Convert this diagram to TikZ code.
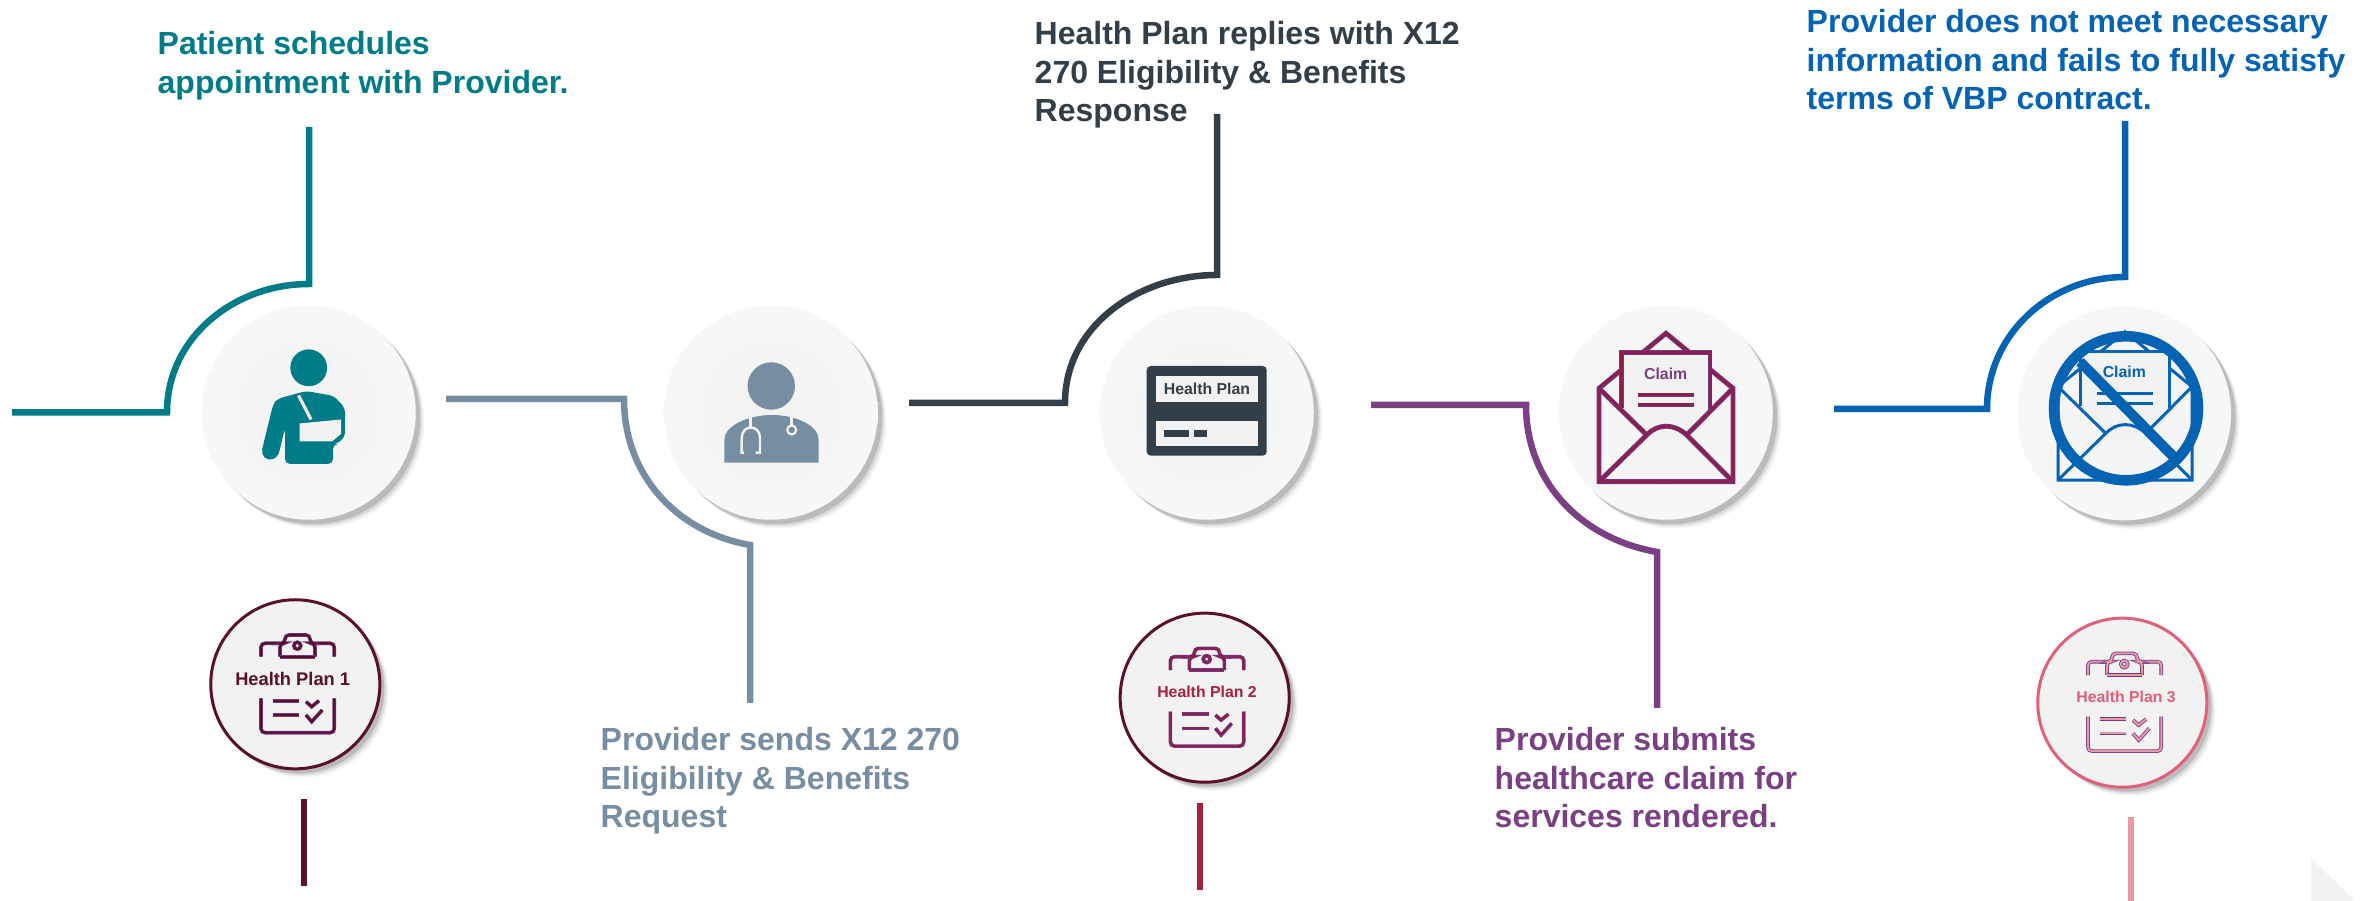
\documentclass[tikz,border=0pt]{standalone}
\usepackage{fontspec}
\setmainfont{Liberation Sans}
\usetikzlibrary{shadows}
\definecolor{tealline}{HTML}{007C89}
\definecolor{slateline}{HTML}{778DA1}
\definecolor{darkline}{HTML}{323E48}
\definecolor{plumline}{HTML}{7B3F84}
\definecolor{blueline}{HTML}{0563B4}
\definecolor{wineline}{HTML}{5A1027}
\definecolor{redline}{HTML}{A6213C}
\definecolor{pinkline}{HTML}{E998A6}
\definecolor{pinkrim}{HTML}{E0607A}
\definecolor{iconplum}{HTML}{6C3A8A}
\definecolor{iconred}{HTML}{8E1E4B}
\definecolor{disccolor}{HTML}{F2F2F2}
\begin{document}
\begin{tikzpicture}
    [
        x=0.01cm, y=-0.01cm,
        round shadow/.style = {
            drop shadow={shadow xshift=.085cm, shadow yshift=-.085cm, shadow scale=1.0, opacity=.1},
            drop shadow={shadow xshift=.065cm, shadow yshift=-.065cm, shadow scale=1.0, opacity=.2},
            drop shadow={shadow xshift=.045cm, shadow yshift=-.045cm, shadow scale=1.0, opacity=.35},
        },
        icon disc/.style = {
            circle, inner sep=0pt, minimum size=2.14cm,
            shade, inner color=disccolor, outer color=disccolor!60!white, round shadow
        },
        plan disc/.style = {
            circle, inner sep=0pt, minimum size=1.69cm, line width=.85pt,
            fill=disccolor, round shadow
        },
        route/.style = {
            line width=1.85pt, miter limit=4
        },
        step text/.style = {
            anchor=north west, align=left, inner sep=0pt,
            font=\fontsize{9.1}{10.9}\selectfont\bfseries
        },
        plan text/.style = {
            inner sep=0pt, font=\fontsize{4.5}{5.4}\selectfont\bfseries
        },
        card text/.style = {
            inner sep=0pt, font=\fontsize{4.5}{5.4}\selectfont\bfseries
        },
        clip stroke/.style = {
            draw=iconplum, double=iconred, line width=.22pt, double distance=.6pt
        },
        mail stroke/.style = {
            draw=iconplum, double=iconred, line width=.27pt, double distance=.85pt
        },
        clipboard/.pic = {
            \draw[clip stroke, rounded corners=.04cm] (-34.3,-27.6) -- (-34.3,-41) -- (-15.3,-41);
            \draw[clip stroke, rounded corners=.04cm] (19.7,-41) -- (39,-41) -- (39,-27.6);
            \draw[clip stroke, rounded corners=.04cm] (-15.3,-27.6) -- (-15.3,-41) -- (-10.3,-41) -- (-10.3,-49.3) -- (14.7,-49.3) -- (14.7,-41) -- (19.7,-41) -- (19.7,-27.6);
            \draw[clip stroke] (-15.3,-27.6) -- (19.7,-27.6);
            \draw[clip stroke] (2,-38.6) circle [radius=3.5];
            \draw[clip stroke, rounded corners=.04cm] (-34.3,14) -- (-34.3,48.4) -- (39,48.4) -- (39,14);
            \draw[clip stroke] (-22.6,16.4) -- (4,16.4);
            \draw[clip stroke] (-22.6,30.7) -- (4,30.7);
            \draw[clip stroke] (10.7,17.4) -- (16.4,22.4) -- (23.7,16.4);
            \draw[clip stroke] (10.7,30.7) -- (16.4,37.4) -- (27,25.7);
        },
        envelope/.pic = {
            \draw[mail stroke] (-67,148.4) -- (-67,55) -- (0,0) -- (67,55) -- (67,148.4) -- cycle;
            \fill[disccolor] (-44.3,74.7) -- (-44.3,19.4) -- (44,19.4) -- (44,76.7) -- (20.7,101.7) -- (-19.3,101.7) -- cycle;
            \draw[mail stroke] (-44.3,74.7) -- (-44.3,19.4) -- (44,19.4) -- (44,76.7);
            \draw[mail stroke] (-67,55) -- (-19.3,101.7) .. controls (-8,90) and (8,90) .. (20.7,101.7) -- (67,55);
            \draw[mail stroke] (-67,148.4) -- (-19.3,101.7);
            \draw[mail stroke] (20.7,101.7) -- (67,148.4);
            \draw[mail stroke] (-27.7,61.7) -- (27.7,61.7);
            \draw[mail stroke] (-27.7,71.7) -- (27.7,71.7);
        },
    ]
    \useasboundingbox (0,0) rectangle (2369,901);
    \fill[disccolor] (2311,858) -- (2355,901) -- (2311,901) -- cycle;

    % the five steps
    \node[icon disc] (patient) at (308.7,412.7) {};
    \node[icon disc] (provider) at (770.7,412.7) {};
    \node[icon disc] (healthplan) at (1206.7,412.7) {};
    \node[icon disc] (claim) at (1665.7,412.7) {};
    \node[icon disc] (denied) at (2124,413.3) {};

    % routes
    \coordinate (patientA) at (12,412.5);
    \coordinate (patientB) at (167,412.5);
    \coordinate (patientC) at (309,284);
    \coordinate (patientD) at (309,127);
    \draw[route, tealline] (patientA) -- (patientB) to[out=90, in=180] (patientC) -- (patientD);
    \coordinate (providerA) at (446,399);
    \coordinate (providerB) at (624,399);
    \coordinate (providerC) at (750,545);
    \coordinate (providerD) at (750,703);
    \draw[route, slateline] (providerA) -- (providerB) to[out=-90, in=170] (providerC) -- (providerD);
    \coordinate (planA) at (909,403);
    \coordinate (planB) at (1065,403);
    \coordinate (planC) at (1217,275);
    \coordinate (planD) at (1217,114);
    \draw[route, darkline] (planA) -- (planB) to[out=90, in=180] (planC) -- (planD);
    \coordinate (claimA) at (1371,405);
    \coordinate (claimB) at (1526,405);
    \coordinate (claimC) at (1657,552);
    \coordinate (claimD) at (1657,708);
    \draw[route, plumline] (claimA) -- (claimB) to[out=-90, in=170] (claimC) -- (claimD);
    \coordinate (deniedA) at (1834,409);
    \coordinate (deniedB) at (1987,409);
    \coordinate (deniedC) at (2125,277);
    \coordinate (deniedD) at (2125,121);
    \draw[route, blueline] (deniedA) -- (deniedB) to[out=90, in=180] (deniedC) -- (deniedD);

    % step texts
    \node[step text, text=tealline] (patientText) at (157,31) {Patient schedules\\appointment with Provider.};
    \node[step text, text=slateline] (providerText) at (600,727) {Provider sends X12 270\\Eligibility \& Benefits\\Request};
    \node[step text, text=darkline] (planText) at (1034,21) {Health Plan replies with X12\\270 Eligibility \& Benefits\\Response};
    \node[step text, text=plumline] (claimText) at (1494,727) {Provider submits\\healthcare claim for\\services rendered.};
    \node[step text, text=blueline] (deniedText) at (1806,9) {Provider does not meet necessary\\information and fails to fully satisfy\\terms of VBP contract.};

    % patient
    \fill[tealline] (308.7,367.8) circle [radius=18.4];
    \fill[tealline, rounded corners=.05cm] (273,405) -- (277,399) -- (306,391) -- (334,396) -- (345,408) -- (345,437) -- (337,444) -- (333,444) -- (333,464) -- (285,464) -- (285,428) -- (278,457) -- (268,461) -- (261,454) -- cycle;
    \fill[disccolor] (299.5,423.5) -- (341,419.5) -- (341,434) -- (332,441.4) -- (299.5,441.4) -- cycle;
    \draw[disccolor, line width=.9pt] (298.5,395.4) -- (311,419.5);

    % provider
    \fill[slateline] (771.3,386) circle [radius=23.7];
    \fill[slateline] (724.3,462.7) -- (724.3,440) .. controls (724.3,425) and (750,415) .. (771.7,415) .. controls (795,415) and (818.7,425) .. (818.7,440) -- (818.7,462.7) -- cycle;
    \draw[disccolor, line width=.7pt] (750.7,417.3) -- (750.7,428.3);
    \draw[disccolor, line width=.7pt] (744,452.7) -- (741.7,452.7) -- (741.7,438) .. controls (741.7,424) and (760,424) .. (760,438) -- (760,452.7) -- (755.7,452.7);
    \draw[disccolor, line width=.7pt] (791.7,417.3) -- (791.7,426);
    \draw[disccolor, line width=.6pt] (791.7,430) circle [radius=4.5];

    % member card
    \fill[darkline, rounded corners=.04cm] (1146.7,366) rectangle (1266.7,455.7);
    \fill[disccolor] (1155.7,375.7) rectangle (1258.3,401.7);
    \fill[disccolor] (1155.7,420.7) rectangle (1258.3,446);
    \fill[darkline] (1164,430.3) rectangle (1189,436.7);
    \fill[darkline] (1194,430.3) rectangle (1207,436.7);
    \node[card text, text=darkline] (cardText) at (1207,388.5) {Health Plan};

    % claim envelope
    \pic at (1666,333.3) {envelope};
    \node[card text, text=plumline] (claimLabel) at (1665.7,374) {Claim};

    % denied claim
    \pic[mail stroke/.style={draw=blueline, line width=.85pt}] at (2125,331.7) {envelope};
    \node[card text, text=blueline] (deniedLabel) at (2124.3,372.3) {Claim};
    \draw[blueline, line width=3pt] (2126,408.3) circle [radius=72];
    \draw[blueline, line width=2.9pt] (2080,361.7) -- (2176.7,460);

    % health plans
    \node[plan disc, draw=wineline] (plan1) at (295.3,684.3) {};
    \node[plan disc, draw=wineline] (plan2) at (1204.7,697.7) {};
    \node[plan disc, draw=pinkrim] (plan3) at (2122.3,702.7) {};
    \pic[clip stroke/.style={draw=iconplum, double=wineline, line width=.22pt, double distance=.6pt}] at (plan1) {clipboard};
    \pic at (plan2) {clipboard};
    \pic[clip stroke/.style={draw=iconplum, double=pinkline, line width=.22pt, double distance=.6pt}] at (plan3) {clipboard};
    \node[plan text, text=wineline, font=\fontsize{5.2}{6}\selectfont\bfseries] (plan1Text) at ([shift={(-2.6,-5.3)}]plan1) {Health Plan 1};
    \node[plan text, text=redline] (plan2Text) at ([shift={(2.3,-5.4)}]plan2) {Health Plan 2};
    \node[plan text, text=pinkrim] (plan3Text) at ([shift={(3.7,-5.4)}]plan3) {Health Plan 3};

    \coordinate (plan1A) at (304,799);
    \coordinate (plan1B) at (304,886);
    \draw[route, wineline] (plan1A) -- (plan1B);
    \coordinate (plan2A) at (1200,803);
    \coordinate (plan2B) at (1200,890);
    \draw[route, redline] (plan2A) -- (plan2B);
    \coordinate (plan3A) at (2131,817);
    \coordinate (plan3B) at (2131,901);
    \draw[route, pinkline] (plan3A) -- (plan3B);
\end{tikzpicture}
\end{document}
